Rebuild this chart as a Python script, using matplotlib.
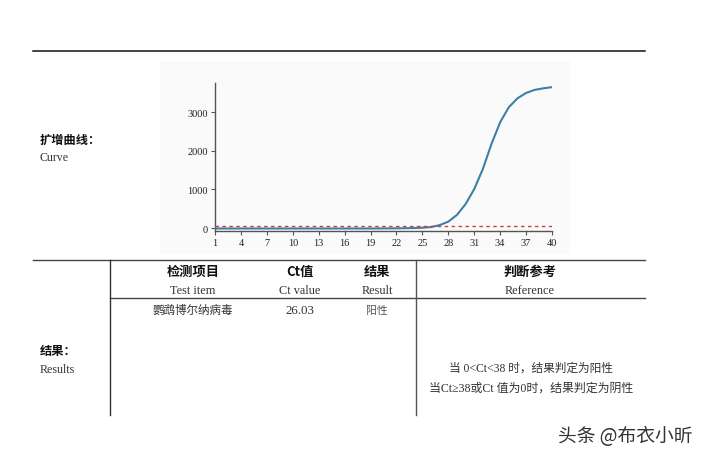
import matplotlib
matplotlib.use('Agg')
import matplotlib.pyplot as plt
from matplotlib.lines import Line2D
from matplotlib.patches import Rectangle

plt.rcParams['font.family'] = ['Liberation Serif', 'Noto Sans CJK SC', 'DejaVu Sans']

# amplification curve
cycles = list(range(1, 41))
fluor = [-12, -12, -12, -12, -12, -12, -12, -12, -12, -12,
         -12, -12, -12, -12, -12, -12, -12, -12, -12, -11,
         -10, -8, -5, 0, 8, 25, 75, 165, 340, 620,
         1010, 1530, 2180, 2740, 3130, 3360, 3500, 3580, 3620, 3650]
threshold = 50
xticks = list(range(1, 41, 3))
yticks = [0, 1000, 2000, 3000]

header_cn = ['检测项目', 'Ct值', '结果', '判断参考']
header_en = ['Test item', 'Ct value', 'Result', 'Reference']
row = ['鹦鹉博尔纳病毒', '26.03', '阳性']
ref_lines = ['当 0<Ct<38 时，结果判定为阳性', '当Ct≥38或Ct 值为0时，结果判定为阴性']

W, H = 702, 460
fig = plt.figure(figsize=(W/100, H/100), dpi=100)
fig.patch.set_facecolor('white')

def fx(px): return px/W
def fy(py): return 1-py/H

# faint background of the pasted chart image
fig.patches.append(Rectangle((fx(160), fy(255)), fx(570)-fx(160), fy(62)-fy(255),
                             transform=fig.transFigure, facecolor='#fafafa', edgecolor='none', zorder=-5))

ax = fig.add_axes([fx(215), fy(232.3), fx(552)-fx(215), fy(84.3)-fy(232.3)])
ax.set_zorder(3)
ax.set_facecolor('none')
ax.plot(cycles, fluor, color='#3f7fa6', lw=1.5, zorder=3)
ax.axhline(threshold, color='#c8413a', lw=1, ls=(0, (2.5, 2.5)), zorder=4)
ax.set_xlim(1, 40)
ax.set_ylim(-85, 3750)
ax.set_xticks(xticks)
ax.set_yticks(yticks)
for s in ['top', 'right']:
    ax.spines[s].set_visible(False)
for s in ['left', 'bottom']:
    ax.spines[s].set_color('#555555')
    ax.spines[s].set_linewidth(1)
ax.tick_params(direction='out', length=3, width=0.8, color='#555555', labelsize=7.5,
               labelcolor='#222222', pad=2)
for lab in ax.get_xticklabels() + ax.get_yticklabels():
    lab.set_family('Liberation Serif')

# page lines
def hline(y, x0, x1, c='#222222', lw=1.0):
    fig.add_artist(Line2D([fx(x0), fx(x1)], [fy(y), fy(y)], color=c, lw=lw))
def vline(x, y0, y1, c='#333333', lw=1.0):
    fig.add_artist(Line2D([fx(x), fx(x)], [fy(y0), fy(y1)], color=c, lw=lw))

hline(51.5, 33, 645, c='#111111', lw=1.1)
hline(261, 33, 645, c='#444444')
hline(299, 110, 645, c='#444444')
vline(110, 261, 416)
vline(416, 261, 416, c='#555555')

cn_bold = dict(family=['Noto Sans CJK SC'], weight='bold', color='#111111')
en_reg = dict(family=['Liberation Serif'], color='#333333')
mix = ['Liberation Serif', 'Noto Sans CJK SC']

fig.text(fx(40), fy(140), '扩增曲线：', fontsize=8.8, va='center', **cn_bold)
fig.text(fx(40), fy(158), 'Curve', fontsize=8.6, va='center', **en_reg)
fig.text(fx(40), fy(352), '结果：', fontsize=8.8, va='center', **cn_bold)
fig.text(fx(40), fy(370), 'Results', fontsize=8.6, va='center', **en_reg)

col_x = [193, 300, 377, 530]
for i in range(4):
    fig.text(fx(col_x[i]), fy(272), header_cn[i], fontsize=9.5, ha='center', va='center', **cn_bold)
    fig.text(fx(col_x[i]), fy(291.5), header_en[i], fontsize=8.8, ha='center', va='center', **en_reg)
fig.text(fx(col_x[0]), fy(311), row[0], fontsize=8.3, ha='center', va='center', family=mix, color='#333333')
fig.text(fx(col_x[1]), fy(311), row[1], fontsize=9.3, ha='center', va='center', family=mix, color='#333333')
fig.text(fx(col_x[2]), fy(311), row[2], fontsize=7.8, ha='center', va='center', family=mix, color='#555555')

fig.text(fx(531), fy(369), ref_lines[0], fontsize=8.4, ha='center', va='center', family=mix, color='#333333')
fig.text(fx(531), fy(389), ref_lines[1], fontsize=8.6, ha='center', va='center', family=mix, color='#333333')

fig.text(fx(693), fy(437), '头条 @布衣小昕', fontsize=13.5, ha='right', va='center',
         family=['Noto Sans CJK SC'], color='#333333')

plt.savefig('out.png', dpi=100)
